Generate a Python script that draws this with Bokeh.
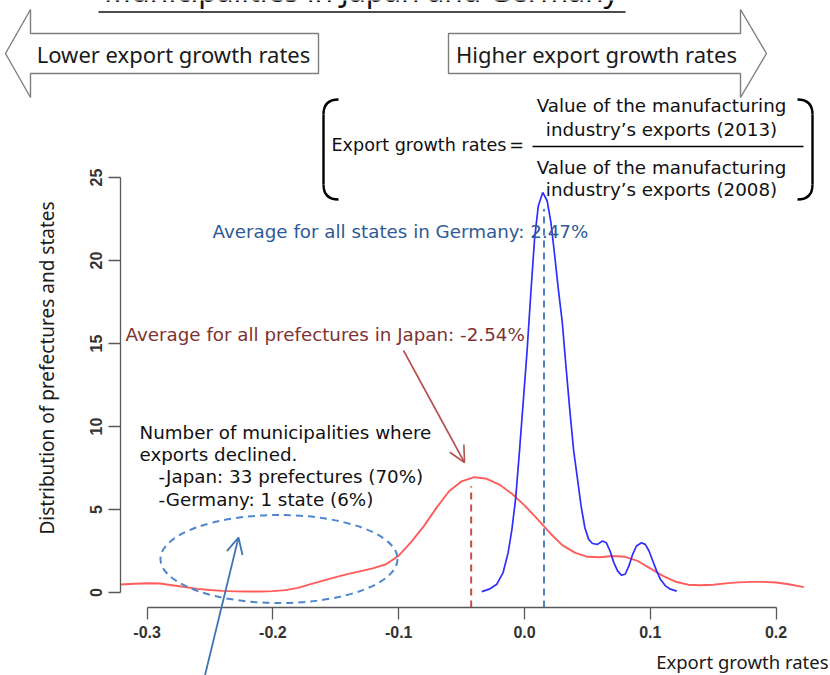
from math import pi
from bokeh.plotting import figure
from bokeh.models import (Range1d, Label, Arrow, OpenHead, PolyAnnotation,
                          FixedTicker, NumeralTickFormatter)
from bokeh.embed import file_html
from bokeh.resources import INLINE

# ---------------- data ----------------
japan_x = [-0.321, -0.31, -0.30, -0.29, -0.28, -0.27, -0.26, -0.25, -0.24, -0.23,
           -0.22, -0.21, -0.20, -0.19, -0.18, -0.17, -0.16, -0.15, -0.14, -0.13,
           -0.12, -0.11, -0.10, -0.09, -0.08, -0.07, -0.06, -0.05, -0.04, -0.03,
           -0.02, -0.01, 0.00, 0.01, 0.02, 0.03, 0.04, 0.05, 0.06, 0.07,
           0.08, 0.09, 0.10, 0.11, 0.12, 0.13, 0.14, 0.15, 0.16, 0.17,
           0.18, 0.19, 0.20, 0.21, 0.222]
japan_y = [0.48, 0.53, 0.56, 0.54, 0.44, 0.33, 0.22, 0.15, 0.10, 0.07,
           0.06, 0.06, 0.08, 0.14, 0.28, 0.50, 0.72, 0.93, 1.12, 1.29,
           1.47, 1.70, 2.22, 3.05, 4.00, 5.10, 6.10, 6.70, 6.95, 6.85,
           6.50, 5.95, 5.25, 4.45, 3.60, 2.85, 2.40, 2.15, 2.12, 2.20,
           2.15, 1.90, 1.45, 1.00, 0.65, 0.47, 0.44, 0.47, 0.55, 0.61,
           0.64, 0.64, 0.60, 0.50, 0.32]

germany_x = [-0.034, -0.028, -0.022, -0.017, -0.013, -0.010, -0.007, -0.004, -0.001, 0.002,
             0.005, 0.008, 0.011, 0.0145, 0.018, 0.021, 0.024, 0.027, 0.030, 0.033,
             0.036, 0.039, 0.042, 0.045, 0.048, 0.051, 0.054, 0.058, 0.062, 0.065,
             0.068, 0.071, 0.074, 0.077, 0.080, 0.083, 0.086, 0.089, 0.093, 0.096,
             0.099, 0.102, 0.105, 0.108, 0.112, 0.116, 0.121]
germany_y = [0.05, 0.20, 0.50, 1.20, 2.40, 3.80, 5.70, 8.50, 11.5, 14.5,
             18.0, 21.3, 23.3, 24.1, 23.6, 22.3, 20.3, 18.2, 16.3, 13.6,
             11.0, 8.6, 6.9, 5.2, 3.9, 3.2, 2.95, 2.9, 3.1, 3.0,
             2.5, 1.8, 1.3, 1.05, 1.1, 1.6, 2.3, 2.8, 3.0, 2.9,
             2.5, 1.9, 1.3, 0.8, 0.4, 0.2, 0.08]

japan_mean_x = -0.0424
japan_mean_top = 6.4
germany_mean_x = 0.0155
germany_mean_top = 23.1

x_ticks = [-0.3, -0.2, -0.1, 0.0, 0.1, 0.2]
y_ticks = [0, 5, 10, 15, 20, 25]

# ---------------- layout helpers (screen px -> data) ----------------
W, H = 830, 675
PX0, XS = 524.0, 1258.0     # screen x of value 0, px per unit
PY0, YS = 592.0, 16.6       # screen y of value 0, px per unit
AXIS_X_PX, AXIS_Y_PX = 120, 607   # where the axes sit (R-style plot box)


def dx(px):
    return (px - PX0) / XS


def dy(py):
    return (PY0 - py) / YS


p = figure(width=W, height=H,
           x_range=Range1d(dx(0), dx(W)),
           y_range=Range1d(dy(H), dy(0)),
           output_backend="svg", toolbar_location=None, title=None,
           min_border_left=0, min_border_right=0,
           min_border_top=0, min_border_bottom=0)
p.outline_line_color = None
p.xgrid.visible = False
p.ygrid.visible = False
p.background_fill_color = "white"
p.border_fill_color = "white"

AX_COL = "#595959"
for ax in (p.xaxis, p.yaxis):
    ax.axis_line_color = AX_COL
    ax.axis_line_width = 1.3
    ax.major_tick_line_color = AX_COL
    ax.major_tick_line_width = 1.3
    ax.major_tick_out = 12
    ax.major_tick_in = 0
    ax.minor_tick_line_color = None
    ax.major_label_text_font = "Liberation Sans"
    ax.major_label_text_font_size = "16px"
    ax.major_label_text_font_style = "bold"
    ax.major_label_text_color = "#333333"

p.xaxis.ticker = FixedTicker(ticks=x_ticks)
p.xaxis.bounds = (x_ticks[0], x_ticks[-1])
p.xaxis.formatter = NumeralTickFormatter(format="0.0")
p.xaxis.major_label_standoff = 6
p.xaxis.fixed_location = dy(AXIS_Y_PX)
p.yaxis.ticker = FixedTicker(ticks=y_ticks)
p.yaxis.bounds = (y_ticks[0], y_ticks[-1])
p.yaxis.major_label_orientation = "vertical"
p.yaxis.major_label_standoff = 7
p.yaxis.fixed_location = dx(AXIS_X_PX)

# ---------------- curves ----------------
p.line(japan_x, japan_y, line_color="#ff4a4a", line_width=1.9, line_alpha=0.9)
p.line(germany_x, germany_y, line_color="#2e2eff", line_width=1.7)

p.segment(x0=[japan_mean_x], y0=[dy(AXIS_Y_PX)], x1=[japan_mean_x], y1=[japan_mean_top],
          line_color="#c0504d", line_width=2, line_dash="7 5")
p.segment(x0=[germany_mean_x], y0=[dy(AXIS_Y_PX)], x1=[germany_mean_x], y1=[germany_mean_top],
          line_color="#4f81bd", line_width=2, line_dash="7 5")

# dashed ellipse
p.ellipse(x=[dx(278.5)], y=[dy(558.5)], width=[237 / XS], height=[88 / YS],
          fill_color=None, line_color="#4f86cc", line_width=2, line_dash="7 5")

# ---------------- formula box ----------------
BR = dict(line_color="black", line_width=2.4)
p.quadratic(x0=[dx(338)], y0=[dy(99)], x1=[dx(323)], y1=[dy(114)],
            cx=[dx(323)], cy=[dy(99)], **BR)
p.segment(x0=[dx(323)], y0=[dy(114)], x1=[dx(323)], y1=[dy(184)], **BR)
p.quadratic(x0=[dx(323)], y0=[dy(184)], x1=[dx(338)], y1=[dy(199)],
            cx=[dx(323)], cy=[dy(199)], **BR)
p.quadratic(x0=[dx(797)], y0=[dy(99)], x1=[dx(812)], y1=[dy(114)],
            cx=[dx(812)], cy=[dy(99)], **BR)
p.segment(x0=[dx(812)], y0=[dy(114)], x1=[dx(812)], y1=[dy(184)], **BR)
p.quadratic(x0=[dx(812)], y0=[dy(184)], x1=[dx(797)], y1=[dy(199)],
            cx=[dx(812)], cy=[dy(199)], **BR)
p.segment(x0=[dx(532)], y0=[dy(146)], x1=[dx(803)], y1=[dy(146)],
          line_color="black", line_width=1.6)

FONT_V = "DejaVu Sans"
FONT_S = "Noto Sans"


def label(text, px, py, size="18.3px", color="black", align="left",
          font=FONT_V, baseline="middle", angle=0.0):
    p.add_layout(Label(x=dx(px), y=dy(py), text=text, text_align=align,
                       text_baseline=baseline, text_font_size=size,
                       text_color=color, text_font=font, angle=angle))


label("Export growth rates", 331, 144, size="17.6px", color="#111111")
label("=", 516, 144, size="17.6px", align="center", color="#111111")
label("Value of the manufacturing", 661, 105, align="center", color="#111111")
label("industry\u2019s exports (2013)", 661, 129, align="center", color="#111111")
label("Value of the manufacturing", 661, 167, align="center", color="#111111")
label("industry\u2019s exports (2008)", 661, 189, align="center", color="#111111")

# ---------------- big arrows at top ----------------
ARROW_STYLE = dict(fill_color="white", fill_alpha=1.0, line_color="#7f7f7f",
                   line_width=1.4, line_alpha=1.0)
left_px = [5, 30, 30, 318, 318, 30, 30]
left_py = [53, 9, 33, 33, 73, 73, 97]
right_px = [448, 740, 740, 766, 740, 740, 448]
right_py = [33, 33, 9, 53, 97, 73, 73]
p.add_layout(PolyAnnotation(xs=[dx(v) for v in left_px], ys=[dy(v) for v in left_py],
                            **ARROW_STYLE))
p.add_layout(PolyAnnotation(xs=[dx(v) for v in right_px], ys=[dy(v) for v in right_py],
                            **ARROW_STYLE))
label("Lower export growth rates", 173, 53, size="22px", align="center",
      font=FONT_S, color="#1a1a1a")
label("Higher export growth rates", 596, 53, size="22px", align="center",
      font=FONT_S, color="#1a1a1a")

# title (cut off at the top of the picture, as in the reference) and its underline
label("Municipalities in Japan and Germany", 361, 10.5, size="30px", align="center",
      font=FONT_S, baseline="bottom", color="#111111")
p.add_layout(Arrow(end=None, x_start=dx(98), y_start=dy(11.5), x_end=dx(625),
                   y_end=dy(11.5), line_color="#111111", line_width=1.6))

# ---------------- annotations ----------------
label("Average for all states in Germany: 2.47%", 212, 231, color="#2f5a96")
label("Average for all prefectures in Japan: -2.54%", 125, 334, color="#7e3332")
label("Number of municipalities where", 139, 432, color="#111111")
label("exports declined.", 139, 454, color="#111111")
label("-Japan: 33 prefectures (70%)", 158, 476, color="#111111")
label("-Germany: 1 state (6%)", 158, 499, color="#111111")

p.add_layout(Arrow(end=OpenHead(size=16, line_color="#b5504d", line_width=1.6),
                   x_start=dx(403), y_start=dy(350), x_end=dx(464), y_end=dy(462),
                   line_color="#b5504d", line_width=1.6))
p.add_layout(Arrow(end=OpenHead(size=16, line_color="#3f74b5", line_width=1.8),
                   x_start=dx(202), y_start=dy(685), x_end=dx(238), y_end=dy(537),
                   line_color="#3f74b5", line_width=1.8))

# axis titles
label("Distribution of prefectures and states", 46, 367.5, size="19px", align="center",
      font=FONT_S, color="#1a1a1a", angle=pi / 2)
label("Export growth rates", 828, 661, size="18.5px", align="right",
      font=FONT_S, color="#1a1a1a")

open("out.html", "w").write(file_html(p, INLINE))
